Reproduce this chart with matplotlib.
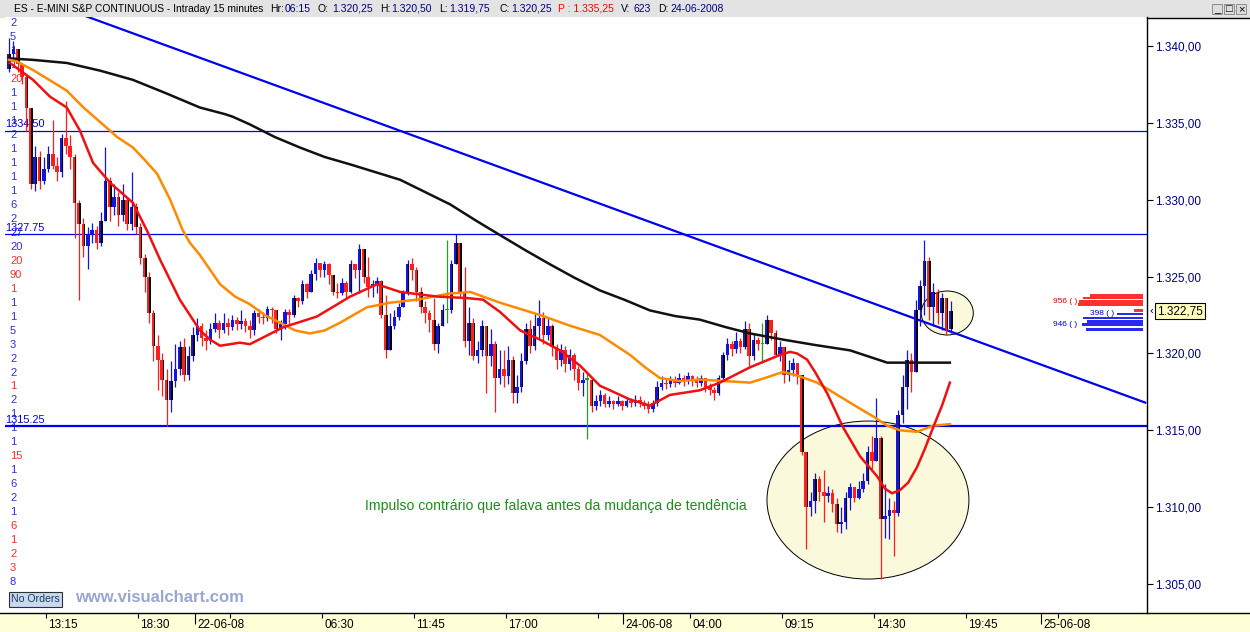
import numpy as np
import matplotlib.pyplot as plt
from matplotlib.patches import Ellipse, Rectangle
from matplotlib.lines import Line2D
from matplotlib import transforms

plt.rcParams['font.family'] = ['Liberation Sans', 'DejaVu Sans']

W, H = 1250, 632

# 15 minute bars (close / high / low), open = previous close
first_open = 1338.5
closes = [
    1339.5, 1339.8, 1338.8, 1338.0, 1336.0, 1331.0, 1332.8, 1331.2, 1332.0, 1333.0,
    1332.2, 1331.8, 1334.0, 1333.5, 1332.8, 1329.8, 1328.4, 1327.0, 1327.8, 1328.0,
    1327.2, 1328.6, 1331.2, 1329.5, 1330.2, 1329.0, 1330.0, 1328.4, 1329.5, 1328.2,
    1326.2, 1325.0, 1322.6, 1320.5, 1319.6, 1318.3, 1317.0, 1318.2, 1319.0, 1320.4,
    1318.6, 1319.8, 1321.2, 1321.8, 1321.0, 1320.8, 1321.6, 1322.0, 1321.5, 1322.0,
    1321.7, 1322.2, 1321.9, 1322.1, 1321.8, 1321.5, 1322.6, 1322.4, 1322.3, 1322.9,
    1322.8, 1321.6, 1321.9, 1322.7, 1322.5, 1323.6, 1323.4, 1324.5, 1324.0, 1325.2,
    1325.9, 1325.4, 1325.8, 1325.1, 1324.0, 1323.9, 1324.6, 1324.0, 1325.8, 1325.4,
    1326.8, 1325.0, 1324.3, 1324.5, 1324.7, 1322.5, 1320.2, 1321.8, 1322.4, 1323.0,
    1323.9, 1325.8, 1325.4, 1324.0, 1323.0, 1322.6, 1322.2, 1320.6, 1321.8, 1322.8,
    1322.8, 1325.8, 1327.2, 1324.0, 1320.8, 1322.0, 1319.8, 1320.2, 1321.8, 1319.8,
    1320.6, 1318.4, 1319.0, 1318.5, 1319.6, 1317.4, 1317.8, 1319.5, 1321.6, 1320.5,
    1321.8, 1322.3, 1321.2, 1321.8, 1320.4, 1319.6, 1320.2, 1319.3, 1319.9, 1319.0,
    1318.1, 1318.3, 1318.3, 1316.6, 1316.9, 1317.3, 1316.7, 1316.9, 1316.7, 1316.9,
    1316.6, 1316.9, 1316.8, 1317.0, 1316.8, 1316.6, 1316.4, 1316.8, 1317.8, 1318.1,
    1318.0, 1318.3, 1318.1, 1318.4, 1318.2, 1318.5, 1318.2, 1318.1, 1318.4, 1317.8,
    1317.6, 1317.4, 1318.4, 1319.9, 1320.6, 1320.3, 1320.8, 1320.4, 1321.6, 1319.8,
    1320.9, 1320.6, 1320.6, 1322.2, 1321.3, 1319.9, 1320.4, 1318.6, 1318.9, 1319.4,
    1318.6, 1313.6, 1310.0, 1310.4, 1311.8, 1311.0, 1310.7, 1310.9, 1310.2, 1308.9,
    1309.0, 1310.6, 1311.3, 1310.6, 1311.2, 1311.7, 1313.6, 1313.0, 1314.5, 1309.2,
    1309.4, 1309.8, 1309.6, 1316.0, 1317.8, 1319.6, 1318.8, 1322.8, 1324.4, 1326.0,
    1323.0, 1324.0, 1322.6, 1323.6, 1321.6, 1322.75,
]
highs = [
    1340.5, 1340.3, 1339.5, 1338.9, 1338.2, 1334.5, 1333.5, 1333.2, 1332.8, 1333.5,
    1335.2, 1332.8, 1334.3, 1336.4, 1334.2, 1333.0, 1330.0, 1328.8, 1328.2, 1328.5,
    1328.3, 1329.2, 1333.4, 1331.5, 1331.0, 1330.5, 1331.0, 1330.2, 1331.8, 1329.8,
    1328.5, 1326.5, 1325.3, 1322.8, 1321.2, 1320.0, 1319.0, 1319.5, 1320.6, 1320.8,
    1321.0, 1320.5, 1321.7, 1322.3, 1322.0, 1321.5, 1322.0, 1322.6, 1322.2, 1322.6,
    1322.3, 1322.5, 1322.4, 1322.8, 1322.3, 1322.2, 1322.8, 1322.9, 1322.7, 1323.1,
    1323.0, 1322.7, 1322.2, 1322.9, 1322.9, 1323.8, 1323.7, 1324.8, 1324.6, 1325.4,
    1326.2, 1325.8, 1326.0, 1325.9, 1325.0, 1324.6, 1324.9, 1324.7, 1326.1, 1325.8,
    1327.1, 1326.6, 1326.3, 1324.8, 1325.0, 1324.8, 1323.8, 1322.6, 1322.8, 1323.3,
    1324.1, 1326.1, 1326.2, 1325.6, 1324.3, 1323.4, 1322.8, 1323.6, 1322.0, 1323.2,
    1327.4, 1326.1, 1327.8, 1326.7, 1325.6, 1323.0, 1322.3, 1320.8, 1322.2, 1321.6,
    1321.6, 1320.8, 1320.2, 1320.2, 1320.5, 1319.8, 1318.6, 1320.0, 1322.0, 1322.2,
    1322.6, 1323.5, 1322.7, 1322.3, 1321.9, 1320.6, 1320.6, 1320.5, 1320.3, 1320.0,
    1319.2, 1318.8, 1318.8, 1318.4, 1317.3, 1317.6, 1317.4, 1317.2, 1317.0, 1317.2,
    1317.0, 1317.1, 1317.1, 1317.3, 1317.2, 1317.0, 1316.9, 1317.0, 1318.2, 1318.5,
    1318.4, 1318.5, 1318.5, 1318.7, 1318.6, 1318.8, 1318.6, 1318.5, 1318.6, 1318.4,
    1318.1, 1317.8, 1318.6, 1320.1, 1321.0, 1320.8, 1321.4, 1321.0, 1322.1, 1322.0,
    1321.3, 1321.1, 1322.0, 1322.5, 1322.2, 1321.5, 1320.8, 1320.0, 1319.6, 1319.7,
    1319.3, 1318.0, 1313.6, 1311.0, 1312.2, 1312.0, 1312.4, 1311.4, 1311.2, 1310.6,
    1310.0, 1311.0, 1311.6, 1311.3, 1311.7, 1312.2, 1314.0, 1314.6, 1317.1, 1314.6,
    1311.5, 1310.6, 1310.4, 1316.3, 1318.6, 1320.2, 1320.0, 1323.5, 1324.8, 1327.4,
    1326.3, 1324.6, 1324.2, 1323.9, 1323.5, 1323.4,
]
lows = [
    1338.3, 1339.0, 1338.3, 1337.5, 1334.5, 1330.7, 1330.6, 1330.7, 1331.0, 1331.8,
    1332.0, 1331.2, 1331.5, 1333.0, 1332.0, 1327.5, 1323.5, 1326.3, 1325.5, 1327.2,
    1326.8, 1327.0, 1328.9, 1328.6, 1329.0, 1328.3, 1328.6, 1328.0, 1328.0, 1327.8,
    1325.8, 1324.0, 1322.0, 1319.5, 1317.6, 1317.2, 1315.3, 1316.2, 1317.8, 1318.6,
    1318.2, 1318.3, 1319.5, 1320.8, 1320.5, 1320.2, 1320.6, 1321.4, 1321.0, 1321.3,
    1321.2, 1321.5, 1321.5, 1321.6, 1321.4, 1321.0, 1321.2, 1322.0, 1321.9, 1322.1,
    1322.0, 1321.3, 1320.9, 1321.6, 1321.8, 1322.4, 1323.0, 1323.2, 1323.6, 1324.0,
    1324.8, 1325.0, 1325.0, 1324.5, 1323.8, 1323.6, 1323.8, 1323.6, 1323.9, 1324.9,
    1323.9, 1324.6, 1323.7, 1323.7, 1323.9, 1322.3, 1319.7, 1321.0, 1321.6, 1322.2,
    1323.0, 1323.8, 1324.8, 1323.4, 1322.6, 1322.0, 1321.4, 1320.2, 1320.0, 1321.8,
    1322.0, 1322.6, 1325.8, 1323.7, 1320.4, 1319.9, 1319.6, 1319.4, 1319.8, 1317.4,
    1319.2, 1316.2, 1318.0, 1317.8, 1318.0, 1316.8, 1316.8, 1317.5, 1319.3, 1320.0,
    1320.2, 1321.0, 1320.6, 1320.9, 1319.8, 1319.0, 1319.2, 1318.8, 1318.9, 1318.3,
    1317.6, 1317.2, 1314.4, 1316.2, 1316.3, 1316.6, 1316.5, 1316.5, 1316.4, 1316.6,
    1316.3, 1316.5, 1316.5, 1316.6, 1316.5, 1316.4, 1316.1, 1316.2, 1316.6, 1317.6,
    1317.7, 1317.8, 1317.8, 1318.0, 1317.9, 1318.0, 1317.9, 1317.8, 1317.9, 1317.5,
    1317.3, 1317.0, 1317.3, 1318.3, 1319.6, 1319.8, 1320.0, 1320.0, 1320.3, 1319.2,
    1319.6, 1320.2, 1319.4, 1320.6, 1320.9, 1319.8, 1319.5, 1318.1, 1318.2, 1318.5,
    1318.0, 1313.4, 1307.3, 1309.4, 1309.6, 1310.4, 1309.0, 1310.3, 1309.7, 1308.4,
    1308.3, 1308.6, 1309.8, 1310.3, 1310.5, 1311.0, 1311.5, 1312.5, 1313.0, 1305.3,
    1308.0, 1307.9, 1306.8, 1309.4, 1315.5, 1316.4, 1317.5, 1319.4, 1321.8, 1322.5,
    1322.2, 1321.8, 1321.9, 1321.5, 1321.2, 1321.3,
]

# moving averages (bar index, price)
red_x = [0.2, 5.5, 9.4, 13.2, 16.2, 19.2, 23.1, 28.3, 31.5, 34.5, 39.0, 43.6, 45.9, 48.2,
         50.5, 52.7, 55.0, 62.6, 70.3, 77.9, 84.0, 89.3, 97.7, 104.6, 108.2, 112.1, 116.7,
         121.2, 125.8, 130.4, 134.9, 141.8, 146.3, 150.9, 157.7, 162.3, 169.2, 176.0,
         178.3, 179.9, 182.2, 184.0, 186.8, 190.4, 194.3, 198.2, 200.0, 201.6, 203.4,
         205.3, 207.3, 209.1, 211.0, 213.0, 214.8]
red_y = [1338.9, 1337.8, 1336.7, 1336.0, 1334.5, 1332.4, 1331.1, 1329.8, 1328.0, 1326.1,
         1323.5, 1321.5, 1320.9, 1320.5, 1320.6, 1320.7, 1320.6, 1321.7, 1322.4, 1323.7,
         1324.5, 1324.0, 1323.7, 1323.6, 1323.5, 1322.7, 1321.5, 1320.9, 1320.2, 1319.2,
         1317.9, 1317.0, 1316.6, 1317.3, 1317.6, 1318.1, 1319.1, 1319.9, 1320.1, 1320.0,
         1319.6, 1318.8, 1317.4, 1315.2, 1313.3, 1312.0, 1311.2, 1310.9, 1311.1, 1311.6,
         1312.6, 1313.8, 1315.2, 1316.6, 1318.1]
orange_x = [0.0, 1.8, 5.5, 13.2, 16.9, 20.8, 24.7, 28.3, 30.6, 33.8, 36.8, 39.7, 41.3,
            43.6, 48.2, 51.6, 55.0, 58.4, 61.9, 65.3, 68.7, 72.1, 75.6, 81.7, 87.0, 93.2,
            100.7, 105.3, 112.1, 121.2, 128.1, 134.9, 141.8, 145.2, 148.6, 153.2, 157.7,
            169.2, 172.6, 176.7, 180.6, 184.5, 194.3, 197.3, 200.5, 203.4, 207.3, 211.0,
            214.8]
orange_y = [1339.1, 1339.0, 1338.44, 1337.1, 1336.03, 1335.06, 1334.08, 1333.4, 1332.71,
            1331.7, 1330.0, 1328.0, 1327.2, 1326.4, 1324.5, 1323.7, 1323.2, 1322.5, 1322.0,
            1321.5, 1321.3, 1321.5, 1322.0, 1323.0, 1323.3, 1323.5, 1323.9, 1324.0, 1323.3,
            1322.5, 1321.8, 1321.2, 1319.9, 1319.1, 1318.4, 1318.2, 1318.3, 1318.1, 1318.4,
            1318.8, 1318.5, 1318.1, 1316.4, 1315.9, 1315.3, 1315.0, 1314.9, 1315.3, 1315.4]
black_x = [0.0, 5.5, 13.2, 20.8, 28.3, 36.1, 39.0, 43.6, 49.3, 51.1, 55.0, 60.7, 66.4,
           72.1, 77.9, 83.6, 89.3, 95.0, 100.7, 106.4, 112.1, 117.8, 123.5, 129.2, 134.9,
           140.6, 146.3, 152.1, 157.7, 163.5, 169.2, 176.7, 184.0, 192.0, 200.5, 214.8]
black_y = [1339.2, 1339.1, 1338.9, 1338.4, 1337.8, 1336.9, 1336.55, 1336.0, 1335.57, 1335.4,
           1334.9, 1334.08, 1333.4, 1332.78, 1332.3, 1331.8, 1331.3, 1330.5, 1329.7, 1328.68,
           1327.7, 1326.73, 1325.8, 1324.91, 1324.1, 1323.48, 1322.8, 1322.43, 1322.2,
           1321.72, 1321.3, 1320.9, 1320.55, 1320.2, 1319.4, 1319.4]

levels = [1334.50, 1327.75, 1315.25]
level_labels = ['1334.50', '1327.75', '1315.25']
trend_x = [15.1, 259.4]
trend_y = [1342.2, 1316.8]

# order book at the right edge
book_red = [1323.77, 1323.60, 1323.38, 1323.18, 1322.79]
book_red_len = [12.1, 13.7, 14.6, 14.8, 2.1]
book_blue = [1322.56, 1322.30, 1322.07, 1321.88, 1321.55]
book_blue_len = [5.9, 13.7, 12.8, 13.9, 13.0]

left_vals = ["2", "5", "1", "1", "20", "1", "1", "1", "2", "1", "1", "1", "1", "6", "2",
             "27", "20", "20", "90", "1", "1", "1", "5", "3", "2", "2", "1", "2", "1", "1",
             "1", "15", "1", "6", "2", "1", "6", "1", "2", "3", "8"]
left_cols = "bbbbrbbbbbbbbbbbbrrrbbbbbbrbbbbrbbbbrrrrb"

tick_pos = [8.5, 29.5, 50.5, 71.5, 92.5, 113.5, 134.5, 155.5, 176.5, 197.5, 218.5, 239.5]
tick_lab = ["13:15", "18:30", "", "06:30", "11:45", "17:00", "", "04:00", "09:15", "14:30", "19:45", ""]
date_pos = [42.5, 140.2, 235.6]
date_lab = ["22-06-08", "24-06-08", "25-06-08"]

BLUE = '#1414dc'
RED = '#ff1e1e'
GREEN = '#2a9a2a'
NAVY = '#000080'
LBLUE = '#3030d8'
LRED = '#ee3030'


def fy(y):
    return 1 - y / H


fig = plt.figure(figsize=(W / 100, H / 100), dpi=100, facecolor='white')

# header bar
fig.patches.append(Rectangle((0, fy(17)), 1, 17 / H, transform=fig.transFigure,
                             color='#e3e3e3', zorder=-2))
head = [(14, "ES - E-MINI S&P CONTINUOUS - Intraday 15 minutes", 'black'),
        (270, "Hr:", 'black'), (285, "06:15", NAVY), (318, "O:", 'black'),
        (332, "1.320,25", NAVY), (380, "H:", 'black'), (391, "1.320,50", NAVY),
        (439, "L:", 'black'), (449, "1.319,75", NAVY), (499, "C:", 'black'),
        (511, "1.320,25", NAVY), (558, "P : 1.335,25", 'red'), (621, "V:", 'black'),
        (634, "623", NAVY), (658, "D:", 'black'), (670, "24-06-2008", NAVY)]
for k, (x, s, c) in enumerate(head):
    fig.text(x / W, fy(8.5), s, color=c, fontsize=7.35 if k == 0 else 7.5,
             va='center', ha='left')
for k, g in enumerate(['_', '\u25a1', '\u00d7']):
    x0 = 1212 + k * 12
    fig.patches.append(Rectangle((x0 / W, fy(14)), 10 / W, 10 / H, transform=fig.transFigure,
                                 facecolor='#dcdcdc', edgecolor='#808080', lw=0.6, zorder=1))
    fig.text((x0 + 5) / W, fy(9), g, fontsize=8, ha='center', va='center', color='black')

# main chart
ax = fig.add_axes([5 / W, fy(613), 1142 / W, 596 / H])
ax.set_xlim(-0.9, 259.8)
ax.set_ylim(1303.11, 1341.89)
for s in ['top', 'left', 'bottom']:
    ax.spines[s].set_visible(False)
ax.spines['right'].set_color('black')
ax.spines['right'].set_linewidth(1)
ax.set_xticks([])
ax.yaxis.tick_right()
ax.set_yticks(np.arange(1305, 1341, 5))
ax.set_yticklabels(['1.%s,00' % str(int(v))[1:] for v in np.arange(1305, 1341, 5)])
ax.tick_params(axis='y', direction='out', length=4, width=0.8, pad=2,
               labelsize=8.5, labelcolor=NAVY, color='black')

ax.add_patch(Ellipse((196.1, 1310.46), 46.1, 10.28, facecolor='#fbf9dc',
                     edgecolor='black', lw=0.7, zorder=1))
ax.add_patch(Ellipse((214.2, 1322.63), 11.9, 2.86, facecolor='#fbf9dc',
                     edgecolor='black', lw=0.7, zorder=1))

for lv, lw in zip(levels, [0.9, 0.9, 1.6]):
    ax.axhline(lv, color='#0000ee', lw=lw, zorder=2)
for lv, lab in zip(levels, level_labels):
    ax.annotate(lab, (-0.9, lv), xytext=(0, 1), textcoords='offset points',
                color='#0000cc', fontsize=7.8, va='bottom', ha='left', zorder=2)
ax.plot(trend_x, trend_y, color='#0000ee', lw=1.6, zorder=2)

idx = np.arange(len(closes))
c = np.array(closes)
o = np.array([first_open] + closes[:-1])
h = np.maximum(np.array(highs), np.maximum(o, c))
l = np.minimum(np.array(lows), np.minimum(o, c))
up = c > o + 0.05
dn = c < o - 0.05
col = np.where(up, BLUE, np.where(dn, RED, GREEN))
ax.vlines(idx, l, h, colors=col, lw=0.9, zorder=3)
body = np.maximum(np.abs(c - o), 0.08)
ax.bar(idx, body, bottom=np.minimum(o, c), width=0.82, color=col, zorder=3)
big = np.abs(c - o) >= 1.0
ax.bar(idx[big] + 0.25, np.abs(c - o)[big], bottom=np.minimum(o, c)[big], width=0.34,
       color='black', zorder=3.1)

ax.plot(black_x, black_y, color='#111111', lw=1.8, zorder=4, solid_joinstyle='round')
ax.plot(orange_x, orange_y, color='#ff8a00', lw=1.8, zorder=4, solid_joinstyle='round')
ax.plot(red_x, red_y, color='#f01010', lw=1.8, zorder=4, solid_joinstyle='round')

right_idx = 258.9
ax.barh(book_red, book_red_len, left=right_idx - np.array(book_red_len), height=0.17,
        color='#ff3030', zorder=5)
ax.barh(book_blue, book_blue_len, left=right_idx - np.array(book_blue_len), height=0.17,
        color='#2a2aee', zorder=5)
ax.text(243.8, 1323.38, "956 ( )", color='#dd0000', fontsize=6, ha='right', va='center', zorder=5)
ax.text(252.3, 1322.62, "398 ( )", color='#0000cc', fontsize=6, ha='right', va='center', zorder=5)
ax.text(243.8, 1321.88, "946 ( )", color='#0000cc', fontsize=6, ha='right', va='center', zorder=5)

ax.text(81.3, 1310.07, "Impulso contrário que falava antes da mudança de tendência",
        color='#1e8c1e', fontsize=10.1, ha='left', va='center', zorder=5)

# left column of numbers
for k, (s, cc) in enumerate(zip(left_vals, left_cols)):
    ax.text(10 / W, fy(23 + 13.98 * k), s, transform=fig.transFigure,
            color=LBLUE if cc == 'b' else LRED, fontsize=8, va='center', ha='left', zorder=0.5)

# right panel decorations
fig.add_artist(Line2D([1147 / W, 1], [fy(18), fy(18)], color='black', lw=1))
fig.text(1150 / W, fy(311), '\u2039', fontsize=8, va='center', ha='left', color='black')
fig.text(1157 / W, fy(311), "1.322,75", fontsize=8.5, va='center', ha='left', color='black',
         bbox=dict(boxstyle='square,pad=0.15', fc='#ffffc0', ec='black', lw=0.8))

# bottom strip
fig.patches.append(Rectangle((0, 0), 1, 19 / H, transform=fig.transFigure,
                             color='#ffffd8', zorder=-2))
fig.add_artist(Line2D([0, 1], [fy(613), fy(613)], color='black', lw=1))
band = fig.add_axes([5 / W, 0, 1142 / W, 19 / H], zorder=2)
band.set_xlim(ax.get_xlim())
band.set_ylim(0, 19)
band.axis('off')
band.vlines(tick_pos, 14, 19, color='black', lw=0.8)
band.vlines(date_pos, 8, 19, color='black', lw=0.8)
off = transforms.offset_copy(band.transData, fig=fig, x=2, y=0, units='dots')
for p, s in zip(tick_pos, tick_lab):
    band.text(p, 7, s, transform=off, fontsize=8.5, ha='left', va='center', color='black')
for p, s in zip(date_pos, date_lab):
    band.text(p, 7, s, transform=off, fontsize=8.5, ha='left', va='center', color='black')

fig.text(11 / W, fy(599.5), "No Orders", fontsize=7.6, color='#1a3a5a', va='center', ha='left',
         bbox=dict(boxstyle='square,pad=0.2', fc='#c9d9f2', ec='#303030', lw=0.8))
fig.text(75 / W, fy(598), "www.visualchart.com", fontsize=12, fontweight='bold',
         color='#9aa6d2', va='center', ha='left')

fig.savefig('out.png', dpi=100, facecolor='white')
